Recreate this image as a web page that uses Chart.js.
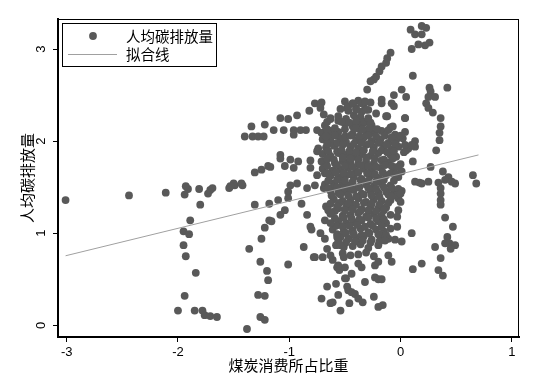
<!DOCTYPE html>
<html>
<head>
<meta charset="utf-8">
<script src="https://cdn.jsdelivr.net/npm/chart.js@4.4.1/dist/chart.umd.min.js"></script>
<style>
  body { margin: 0; background: #fff; }
  canvas { display: block; }
</style>
</head>
<body>
<canvas id="chart--scatter" width="538" height="375"></canvas>
<script>
// 煤炭消费所占比重 (x) vs 人均碳排放量 (y)
const xTicks = [-3, -2, -1, 0, 1]
const yTicks = [0, 1, 2, 3]

const leftGroup = [
	[-3.01,1.36],[-2.44,1.41],[-2.11,1.44],[-1.94,1.42],[-1.91,1.48],[-1.93,1.51],[-1.81,1.48],[-1.73,1.43],
	[-1.71,1.47],[-1.69,1.49],[-1.54,1.49],[-1.49,1.52],[-1.42,1.52],[-1.80,1.31],[-1.89,1.14],[-1.95,1.02],
	[-1.90,0.99],[-1.95,0.87],[-1.93,0.75],[-1.84,0.57],[-1.94,0.32],[-2.00,0.16],[-1.85,0.16],[-1.78,0.16],
	[-1.76,0.11],[-1.71,0.10],[-1.65,0.09],[-1.38,-0.04],[-1.36,0.83],[-1.31,1.31],[-1.26,0.69],[-1.25,0.94],
	[-1.22,1.06],[-1.20,0.59],[-1.19,0.49],[-1.28,0.33],[-1.22,0.32],[-1.26,0.09],[-1.22,0.06],[-1.18,1.14],
	[-1.18,1.32],[-1.34,2.16],[-1.22,2.18],[-1.40,2.05],[-1.33,2.05],[-1.28,2.05],[-1.23,2.05],[-1.31,1.66],
	[-1.25,1.69],[-1.19,1.73],[-1.50,1.54],[-1.43,1.54],[-1.53,1.51]
]

const upperLeftGroup = [
	[-1.08,2.25],[-1.01,2.24],[-0.93,2.28],[-1.14,2.12],[-1.05,2.12],[-0.96,2.12],[-0.90,2.12],[-0.85,2.12],
	[-0.96,2.07],[-0.82,2.33],[-0.77,2.41],[-0.71,2.42],[-0.72,2.36],[-0.69,2.29],[-0.63,2.24],[-0.56,2.22],
	[-0.50,2.21],[-0.48,2.36],[-0.75,2.12],[-0.71,2.09],[-0.63,2.05],[-0.74,1.92],[-0.66,2.00],[-0.59,1.96],
	[-0.50,1.98],[-1.08,1.85],[-1.08,1.81],[-0.99,1.80],[-1.04,1.73],[-0.92,1.78],[-0.81,1.79],[-1.17,1.72],
	[-0.96,1.71],[-0.81,1.71],[-0.75,1.89],[-0.71,1.78],[-0.63,1.83],[-0.57,1.89],[-0.51,1.78],[-0.75,1.63],
	[-0.68,1.65],[-0.60,1.67],[-0.53,1.61],[-0.99,1.52],[-0.93,1.54],[-0.84,1.49],[-0.77,1.52],[-0.69,1.49],
	[-0.60,1.54],[-1.01,1.45],[-0.54,1.45],[-0.47,1.52]
]

const coreGroup = [
	[-0.50,2.43],[-0.43,2.41],[-0.38,2.44],[-0.33,2.40],[-0.27,2.42],[-0.17,2.45],[-0.08,2.41],
	[-0.54,2.35],[-0.47,2.33],[-0.40,2.36],[-0.35,2.32],[-0.29,2.34],[-0.22,2.30],
	[-0.63,2.25],[-0.56,2.27],[-0.49,2.24],[-0.42,2.28],[-0.36,2.26],[-0.29,2.23],[-0.12,2.27],[0.04,2.25],
	[-0.68,2.17],[-0.50,2.19],[-0.43,2.16],[-0.38,2.18],[-0.33,2.20],[-0.26,2.17],[-0.09,2.15],
	[-0.70,2.09],[-0.63,2.11],[-0.56,2.10],[-0.43,2.08],[-0.36,2.12],[-0.31,2.10],[-0.24,2.09],[-0.17,2.11],[-0.05,2.07],[0.04,2.10],
	[-0.70,2.02],[-0.63,2.00],[-0.54,2.03],[-0.49,1.99],[-0.40,2.01],[-0.33,2.04],[-0.26,2.00],[-0.18,2.02],[-0.11,1.98],[-0.04,2.01],[0.02,2.03],
	[-0.67,1.93],[-0.60,1.95],[-0.45,1.94],[-0.38,1.92],[-0.31,1.96],[-0.24,1.93],[-0.15,1.95],[-0.08,1.91],[-0.02,1.94],[0.07,1.92],
	[-0.70,1.86],[-0.63,1.84],[-0.56,1.87],[-0.49,1.85],[-0.42,1.83],[-0.35,1.86],[-0.27,1.84],[-0.20,1.87],[-0.09,1.85],[-0.04,1.83],
	[-0.67,1.78],[-0.59,1.76],[-0.52,1.79],[-0.45,1.77],[-0.38,1.75],[-0.31,1.78],[-0.24,1.76],[-0.17,1.79],[-0.11,1.77],[0.00,1.75],
	[-0.70,1.70],[-0.61,1.68],[-0.54,1.69],[-0.47,1.71],[-0.40,1.67],[-0.33,1.70],[-0.26,1.68],[-0.18,1.71],[-0.06,1.69],[0.01,1.67],
	[-0.63,1.62],[-0.56,1.60],[-0.49,1.63],[-0.42,1.61],[-0.35,1.59],[-0.27,1.62],[-0.20,1.60],[-0.13,1.63],[-0.02,1.61],
	[-0.68,1.53],[-0.59,1.51],[-0.52,1.54],[-0.45,1.52],[-0.38,1.50],[-0.31,1.53],[-0.24,1.51],[-0.17,1.54],[-0.09,1.52],
	[-0.63,1.46],[-0.56,1.44],[-0.49,1.45],[-0.42,1.47],[-0.35,1.43],[-0.27,1.46],[-0.20,1.44],[-0.13,1.45],[-0.06,1.43],[0.01,1.46],
	[-0.60,1.37],[-0.52,1.35],[-0.45,1.36],[-0.38,1.38],[-0.31,1.34],[-0.24,1.37],[-0.17,1.35],[-0.09,1.36],[-0.02,1.38],
	[-0.67,1.29],[-0.56,1.27],[-0.49,1.28],[-0.42,1.30],[-0.35,1.26],[-0.27,1.29],[-0.20,1.27],[-0.13,1.28],
	[-0.63,1.21],[-0.52,1.19],[-0.45,1.20],[-0.38,1.22],[-0.31,1.18],[-0.24,1.21],[-0.17,1.19],[-0.09,1.20],
	[-0.56,1.13],[-0.49,1.11],[-0.42,1.12],[-0.35,1.14],[-0.27,1.10],[-0.20,1.13],[-0.13,1.11],
	[-0.61,1.04],[-0.51,1.02],[-0.43,1.03],[-0.36,1.05],[-0.29,1.01],[-0.22,1.04],[-0.15,1.02],
	[-0.54,0.96],[-0.47,0.94],[-0.40,0.95],[-0.33,0.97],[-0.26,0.93],[-0.18,0.96],[-0.11,0.94],
	[-0.58,0.87],[-0.51,0.85],[-0.43,0.86],[-0.36,0.88],[-0.29,0.84],[-0.20,0.87],
	[-0.52,0.78],[-0.45,0.76],[-0.38,0.77],[-0.31,0.79],[-0.24,0.75]
]

// points lying between the rows above, where the cloud is solid
const coreFillGroup = [
	[-0.66,2.21],[-0.53,2.21],[-0.46,2.20],[-0.40,2.22],[-0.33,2.21],[-0.27,2.20],
	[-0.66,2.13],[-0.59,2.14],[-0.50,2.13],[-0.40,2.14],[-0.34,2.13],[-0.28,2.14],[-0.21,2.13],[-0.11,2.12],
	[-0.67,2.05],[-0.59,2.06],[-0.50,2.05],[-0.45,2.06],[-0.37,2.05],[-0.29,2.06],[-0.22,2.05],[-0.14,2.06],[-0.08,2.04],[0.00,2.06],
	[-0.66,1.97],[-0.57,1.98],[-0.52,1.96],[-0.42,1.97],[-0.35,1.98],[-0.28,1.97],[-0.20,1.98],[-0.13,1.96],[-0.05,1.97],
	[-0.65,1.89],[-0.53,1.90],[-0.46,1.89],[-0.40,1.88],[-0.33,1.90],[-0.25,1.89],[-0.17,1.90],[-0.12,1.88],[-0.06,1.89],[0.03,1.88],
	[-0.66,1.81],[-0.60,1.80],[-0.52,1.82],[-0.45,1.81],[-0.38,1.80],[-0.31,1.82],[-0.23,1.81],[-0.15,1.80],[-0.07,1.81],
	[-0.66,1.73],[-0.57,1.74],[-0.50,1.73],[-0.43,1.72],[-0.36,1.74],[-0.29,1.73],[-0.22,1.72],[-0.14,1.74],[-0.08,1.73],[-0.03,1.72],
	[-0.66,1.65],[-0.58,1.66],[-0.51,1.65],[-0.45,1.64],[-0.38,1.66],[-0.30,1.65],[-0.23,1.64],[-0.16,1.66],[-0.09,1.65],[-0.04,1.64],
	[-0.65,1.57],[-0.57,1.58],[-0.50,1.57],[-0.43,1.56],[-0.36,1.58],[-0.29,1.57],[-0.22,1.56],[-0.15,1.58],[-0.06,1.57],
	[-0.65,1.49],[-0.57,1.50],[-0.50,1.49],[-0.44,1.48],[-0.37,1.50],[-0.29,1.49],[-0.22,1.48],[-0.15,1.50],[-0.08,1.49],[-0.02,1.48],
	[-0.62,1.41],[-0.54,1.42],[-0.47,1.41],[-0.40,1.40],[-0.33,1.42],[-0.26,1.41],[-0.19,1.40],[-0.11,1.42],[-0.04,1.41],
	[-0.63,1.32],[-0.55,1.33],[-0.47,1.32],[-0.40,1.31],[-0.33,1.33],[-0.26,1.32],[-0.19,1.31],[-0.11,1.33],
	[-0.65,1.25],[-0.59,1.24],[-0.50,1.25],[-0.43,1.26],[-0.36,1.24],[-0.29,1.25],[-0.22,1.24],[-0.15,1.25],
	[-0.59,1.16],[-0.51,1.17],[-0.44,1.16],[-0.37,1.15],[-0.29,1.17],[-0.22,1.16],[-0.15,1.15],
	[-0.58,1.08],[-0.52,1.07],[-0.46,1.08],[-0.39,1.09],[-0.32,1.07],[-0.25,1.08],[-0.17,1.07],
	[-0.57,0.99],[-0.49,1.00],[-0.42,0.99],[-0.35,0.98],[-0.28,1.00],[-0.20,0.99],[-0.13,0.98],
	[-0.56,0.91],[-0.49,0.90],[-0.41,0.91],[-0.34,0.92],[-0.27,0.90],[-0.19,0.91]
]

const upperRightGroup = [
	[-0.47,2.38],[-0.43,2.41],[-0.40,2.34],[-0.35,2.41],[-0.31,2.34],[-0.32,2.43],[-0.29,2.25],[-0.17,2.41],
	[-0.13,2.27],[-0.06,2.38],[0.04,2.25],[-0.06,2.50],[0.01,2.56],[0.05,2.48],[-0.30,2.56],[-0.27,2.65],
	[-0.24,2.67],[-0.22,2.70],[-0.19,2.76],[-0.17,2.81],[-0.13,2.85],[-0.12,2.90],[-0.09,2.96],[0.11,2.71],
	[0.09,3.21],[0.13,3.16],[0.19,3.25],[0.23,3.23],[0.19,3.16],[0.26,3.07],[0.22,3.04],[0.16,3.05],
	[0.10,3.00],[0.26,2.58],[0.27,2.54],[0.25,2.48],[0.31,2.48],[0.42,2.58],[0.23,2.41],[0.25,2.36],
	[0.29,2.31],[0.36,2.25],[0.36,2.16],[0.35,2.09],[0.35,2.01],[0.32,1.90],[-0.07,2.16]
]

const rightGroup = [
	[0.11,1.78],[0.13,2.00],[0.13,1.94],[0.05,1.90],[0.04,1.96],[0.10,1.96],[0.27,1.72],[0.38,1.67],
	[0.43,1.61],[0.65,1.63],[0.68,1.54],[0.40,1.58],[0.46,1.56],[0.49,1.54],[0.25,1.56],[0.17,1.55],
	[0.13,1.56],[0.34,1.55],[0.19,1.54],[0.36,1.49],[0.36,1.43],[0.36,1.36],[0.36,1.31],[0.40,1.17],
	[0.47,1.07],[0.42,0.96],[0.44,0.89],[0.10,1.00],[-0.05,0.93],[0.01,0.91],[-0.08,1.40],[0.00,1.43],
	[0.00,1.34],[-0.02,1.25],[-0.03,1.18],[-0.03,1.07],[-0.09,1.05],[-0.14,0.92],[0.34,0.60],[0.38,0.54],
	[0.36,0.73],[0.31,0.85],[0.40,0.89],[0.49,0.87],[0.45,0.83],[0.11,0.61],[0.19,0.67],[-0.08,0.69],
	[-0.11,0.76]
]

const lowerGroup = [
	[-1.01,0.66],[-0.87,0.85],[-0.78,0.74],[-0.71,0.29],[-0.66,0.42],[-0.58,0.45],[-0.63,0.24],[-0.61,0.25],
	[-0.54,0.16],[-0.56,0.33],[-0.47,0.38],[-0.44,0.36],[-0.41,0.34],[-0.46,0.24],[-0.38,0.29],[-0.32,0.47],
	[-0.34,0.25],[-0.24,0.31],[-0.20,0.20],[-0.16,0.22],[-0.23,0.52],[-0.20,0.50],[-0.17,0.50],[-0.23,0.65],
	[-0.20,0.69],[-0.35,0.63],[-0.38,0.67],[-0.44,0.56],[-0.49,0.51],[-0.55,0.60],[-0.56,0.65],[-0.61,0.71],
	[-0.70,0.74],[-0.77,0.74],[-1.10,1.36],[-1.01,1.38],[-1.04,1.25],[-1.08,1.20],[-1.16,1.13],[-0.89,1.32],
	[-0.84,1.20],[-0.81,1.07],[-0.80,1.04],[-0.72,1.00],[-0.68,0.94],[-0.66,0.83],[-0.63,0.76],[-0.57,0.63],
	[-0.50,0.51],[-0.48,0.42],[-0.68,1.14],[-0.63,1.22],[-0.57,1.29],[-0.63,1.11],[-0.57,0.96],[-0.54,0.87],
	[-0.51,0.74],[-0.50,0.63]
]

// fitted line end points
const fitX = [-3.01, 0.70]
const fitY = [0.755, 1.85]

const pointColor = '#595959'
const lineColor = '#a0a0a0'
const cjkFont = '"Noto Sans CJK SC", "Noto Sans", sans-serif'
const numFont = '"Liberation Sans", Arial, sans-serif'

var scatterPoints = [].concat(leftGroup, upperLeftGroup, coreGroup, coreFillGroup, upperRightGroup, rightGroup, lowerGroup)
	.map(function(p) { return {x: p[0], y: p[1]} })
var fitPoints = fitX.map(function(v, i) { return {x: v, y: fitY[i]} })

// frame, rotated y tick labels and the boxed legend
const decorPlugin = {
	id: 'decor',
	afterDraw(chart) {
		const ctx = chart.ctx
		const area = chart.chartArea
		const yScale = chart.scales.y
		ctx.save()
		ctx.strokeStyle = '#000'
		ctx.lineWidth = 1
		ctx.strokeRect(area.left + 0.5, area.top + 0.5, area.right - area.left - 1, area.bottom - area.top - 1)

		ctx.fillStyle = '#000'
		ctx.font = '13px ' + numFont
		ctx.textAlign = 'center'
		ctx.textBaseline = 'middle'
		yTicks.forEach(function(v) {
			ctx.save()
			ctx.translate(41, yScale.getPixelForValue(v))
			ctx.rotate(-Math.PI / 2)
			ctx.fillText(String(v), 0, 0)
			ctx.restore()
		})

		// legend
		const lx = area.left + 4, ly = area.top + 4
		ctx.fillStyle = '#fff'
		ctx.fillRect(lx, ly, 154, 43)
		ctx.strokeStyle = '#000'
		ctx.strokeRect(lx + 0.5, ly + 0.5, 154, 43)
		ctx.fillStyle = pointColor
		ctx.beginPath()
		ctx.arc(lx + 31, ly + 13, 3.9, 0, Math.PI * 2)
		ctx.fill()
		ctx.strokeStyle = lineColor
		ctx.beginPath()
		ctx.moveTo(lx + 6, ly + 31.5)
		ctx.lineTo(lx + 55, ly + 31.5)
		ctx.stroke()
		ctx.fillStyle = '#000'
		ctx.font = '14.5px ' + cjkFont
		ctx.textAlign = 'left'
		ctx.fillText(chart.data.datasets[1].label, lx + 64, ly + 13)
		ctx.fillText(chart.data.datasets[0].label, lx + 64, ly + 31)
		ctx.restore()
	}
}

const ctx = document.getElementById('chart--scatter').getContext('2d')
const chart__scatter = new Chart(ctx, {
	type: 'scatter',
	data: {
		datasets: [{
			type: 'line',
			label: '拟合线',
			data: fitPoints,
			borderColor: lineColor,
			borderWidth: 1,
			pointRadius: 0,
			fill: false,
			order: 0
		}, {
			label: '人均碳排放量',
			data: scatterPoints,
			backgroundColor: pointColor,
			borderWidth: 0,
			pointRadius: 3.9,
			order: 1
		}]
	},
	plugins: [decorPlugin],
	options: {
		responsive: false,
		animation: false,
		devicePixelRatio: 1,
		layout: {
			padding: {top: 19, right: 19, left: 0, bottom: 0}
		},
		plugins: {
			legend: { display: false },
			tooltip: { enabled: false }
		},
		scales: {
			x: {
				type: 'linear',
				min: -3.078,
				max: 1.064,
				afterBuildTicks: function(s) { s.ticks = xTicks.map(function(v) { return {value: v} }) },
				afterFit: function(s) { s.height = 38 },
				grid: { drawOnChartArea: false, tickLength: 5, color: '#000' },
				border: { color: '#000', width: 2 },
				ticks: { color: '#000', font: { family: numFont, size: 13 }, padding: 3, maxRotation: 0 },
				title: {
					display: true,
					text: '煤炭消费所占比重',
					color: '#000',
					font: { family: cjkFont, size: 15 },
					padding: { top: 0, bottom: 1 }
				}
			},
			y: {
				type: 'linear',
				min: -0.127,
				max: 3.326,
				afterBuildTicks: function(s) { s.ticks = yTicks.map(function(v) { return {value: v} }) },
				afterFit: function(s) { s.width = 58 },
				grid: { drawOnChartArea: false, tickLength: 5, color: '#000' },
				border: { color: '#000', width: 2 },
				ticks: { display: false },
				title: {
					display: true,
					text: '人均碳排放量',
					color: '#000',
					font: { family: cjkFont, size: 15 },
					padding: { top: 18, bottom: 0 }
				}
			}
		}
	}
})
</script>
</body>
</html>
